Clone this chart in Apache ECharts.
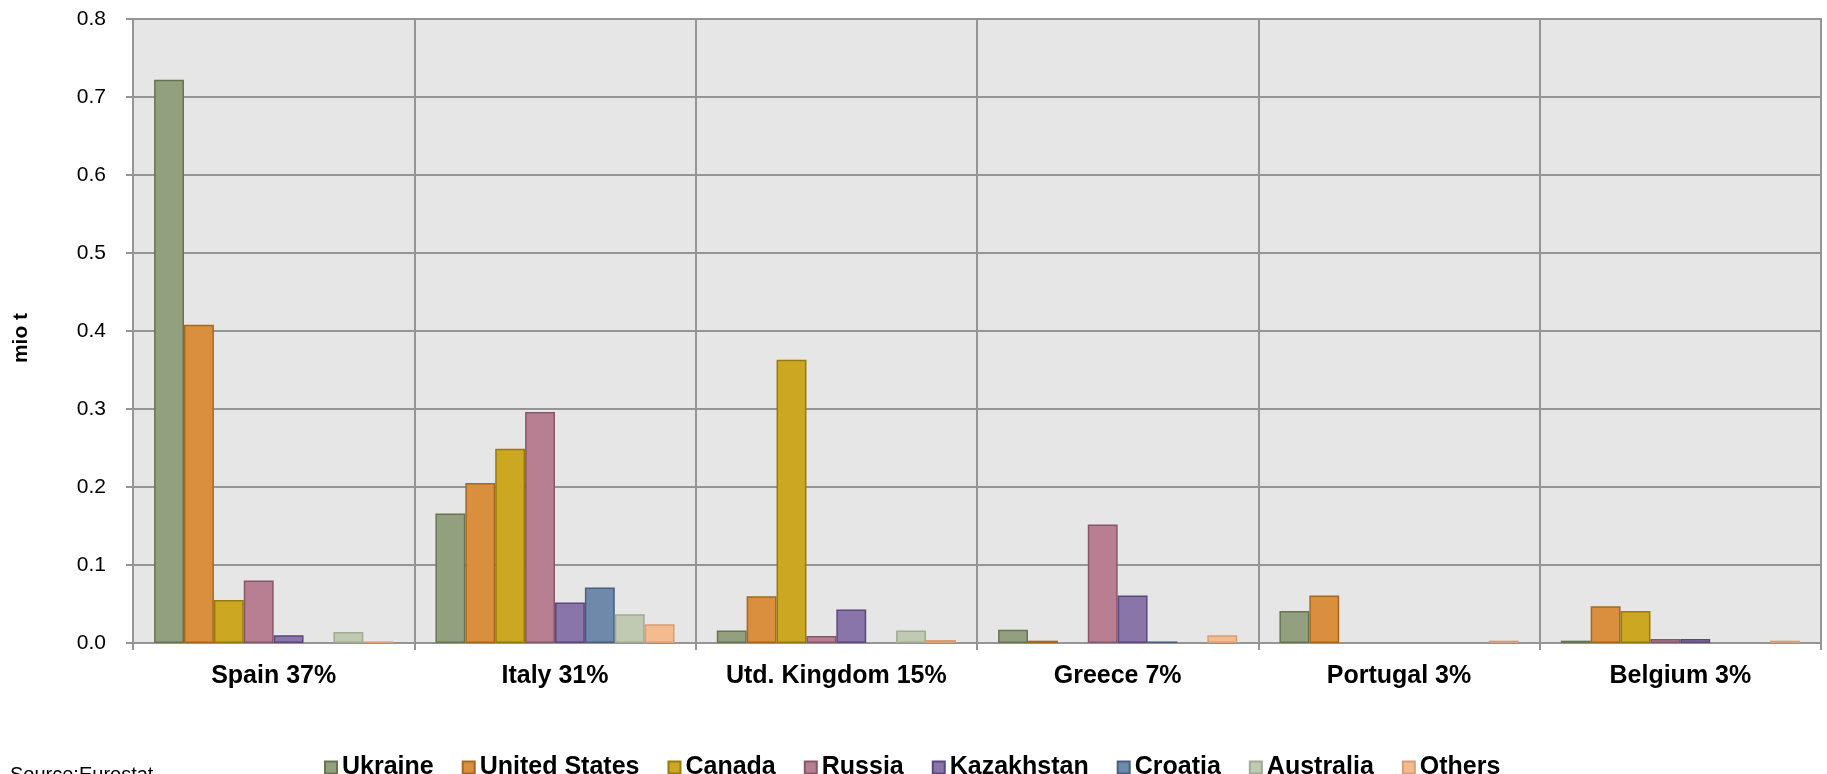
<!DOCTYPE html>
<html>
<head>
<meta charset="utf-8">
<script src="https://cdn.jsdelivr.net/npm/echarts@6/dist/echarts.min.js"></script>
<style>
html,body{margin:0;padding:0;background:#fff;}
#chart{width:1827px;height:774px;}
</style>
</head>
<body>
<div id="chart"></div>
<script>
const categories = ['Spain 37%', 'Italy 31%', 'Utd. Kingdom 15%', 'Greece 7%', 'Portugal 3%', 'Belgium 3%'];
const yTicks = [0, 0.1, 0.2, 0.3, 0.4, 0.5, 0.6, 0.7, 0.8];

const ukraine    = [0.722, 0.166, 0.016, 0.017, 0.041, 0.003];
const unitedStates = [0.408, 0.205, 0.060, 0.003, 0.061, 0.047];
const canada     = [0.055, 0.249, 0.363, 0, 0, 0.041];
const russia     = [0.080, 0.296, 0.009, 0.152, 0, 0.005];
const kazakhstan = [0.010, 0.052, 0.043, 0.061, 0, 0.005];
const croatia    = [0, 0.071, 0, 0.002, 0, 0];
const australia  = [0.014, 0.037, 0.016, 0, 0, 0];
const others     = [0.002, 0.024, 0.004, 0.010, 0.003, 0.003];

const seriesNames = ['Ukraine', 'United States', 'Canada', 'Russia', 'Kazakhstan', 'Croatia', 'Australia', 'Others'];
const seriesData = [ukraine, unitedStates, canada, russia, kazakhstan, croatia, australia, others];
const fills   = ['#93A07F', '#D98F3E', '#CCA822', '#B87F93', '#8A75A8', '#6E89AA', '#C0C9B2', '#F3BB8E'];
const borders = ['#66744F', '#A56822', '#97790E', '#88566A', '#5B477F', '#485F84', '#A1AA93', '#D89F76'];

const FONT = "'Liberation Sans', Arial, sans-serif";

const chart = echarts.init(document.getElementById('chart'), null, {renderer: 'canvas'});

const series = seriesNames.map((name, i) => ({
  name: name,
  type: 'bar',
  data: seriesData[i].map(v => (v === 0 ? '-' : v)),
  barGap: '0%',
  barCategoryGap: '15%',
  itemStyle: {color: fills[i], borderColor: borders[i], borderWidth: 1.5},
  emphasis: {disabled: true},
  animation: false
}));

chart.setOption({
  animation: false,
  textStyle: {fontFamily: FONT},
  grid: {
    left: 133, right: 6, top: 19, bottom: 131,
    show: true, backgroundColor: '#E6E6E6', borderColor: '#959595', borderWidth: 2
  },
  legend: {
    data: seriesNames,
    left: 319, top: 750,
    itemWidth: 12, itemHeight: 12, itemGap: 28,
    icon: 'rect',
    textStyle: {fontFamily: FONT, fontSize: 25, fontWeight: 'bold', color: '#000'}
  },
  xAxis: {
    type: 'category',
    data: categories,
    axisLine: {show: true, lineStyle: {color: '#959595', width: 2}},
    axisTick: {show: true, length: 7, lineStyle: {color: '#959595', width: 2}},
    splitLine: {show: true, interval: 0, lineStyle: {color: '#959595', width: 2}},
    axisLabel: {interval: 0, margin: 21, color: '#000', fontFamily: FONT, fontSize: 25, fontWeight: 'bold'}
  },
  yAxis: {
    type: 'value',
    min: yTicks[0], max: yTicks[yTicks.length - 1], interval: 0.1,
    axisLine: {show: true, lineStyle: {color: '#959595', width: 2}},
    axisTick: {show: true, length: 7, lineStyle: {color: '#959595', width: 2}},
    splitLine: {show: true, lineStyle: {color: '#959595', width: 2}},
    axisLabel: {margin: 27, color: '#000', fontFamily: FONT, fontSize: 21, formatter: v => v.toFixed(1)}
  },
  graphic: [{
    type: 'text', x: 21, y: 338, rotation: Math.PI / 2,
    style: {text: 'mio t', fontFamily: FONT, fontSize: 21, fontWeight: 'bold', fill: '#000', align: 'center', verticalAlign: 'middle'}
  }, {
    type: 'text', left: 10, top: 765,
    style: {text: 'Source:Eurostat', fontFamily: FONT, fontSize: 20, fill: '#000'}
  }],
  series: series
});
</script>
</body>
</html>
